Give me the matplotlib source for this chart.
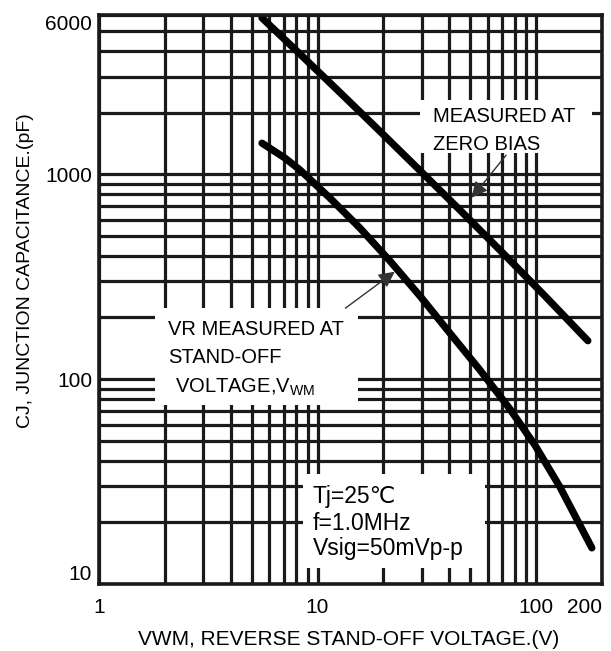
import matplotlib
matplotlib.use('Agg')
import matplotlib.pyplot as plt
from matplotlib.patches import Rectangle

# Datos (V, pF)
vr_cero = [5.57, 8.31, 12.66, 19.3, 29.4, 44.8, 68.3, 109.7, 172.6]
cj_cero = [5805, 3868, 2512, 1623, 1045, 670, 427, 255, 154]

vr_vwm = [5.57, 7.09, 8.31, 11.39, 15.63, 21.44, 29.4, 40.3, 55.3, 75.9, 98.7, 128.5, 180]
cj_vwm = [1420, 1202, 1051, 767, 547, 378, 255, 168, 111, 71.5, 47.7, 29.8, 15.0]

x_ticks = [1, 10, 100, 200]
x_ticklabels = ['1', '10', '100', '200']
y_ticks = [10, 100, 1000, 6000]
y_ticklabels = ['10', '100', '1000', '6000']

x_grid = [2, 3, 4, 5, 6, 7, 8, 9, 20, 30, 40, 50, 60, 70, 80, 90]
y_grid = [20, 30, 40, 50, 60, 70, 80, 90,
          200, 300, 400, 500, 600, 700, 800, 900,
          2000, 3000, 4000, 5000]

plt.rcParams['font.family'] = ['Liberation Sans', 'DejaVu Sans']
plt.rcParams['mathtext.default'] = 'regular'

fig = plt.figure(figsize=(6.11, 6.51), dpi=100)
ax = fig.add_axes([0.162, 0.103, 0.823, 0.874])

ax.set_xscale('log')
ax.set_yscale('log')
ax.set_xlim(1, 200)
ax.set_ylim(10, 6000)

# Rejilla gruesa
ax.set_axisbelow(True)
ax.set_xticks(x_ticks)
ax.set_xticklabels(x_ticklabels)
ax.set_yticks(y_ticks)
ax.set_yticklabels(y_ticklabels)
ax.set_xticks(x_grid, minor=True)
ax.set_yticks(y_grid, minor=True)
ax.tick_params(which='both', length=0)
ax.tick_params(axis='x', pad=10, labelsize=15)
ax.tick_params(axis='y', pad=5, labelsize=15)
ax.xaxis.set_minor_formatter(plt.NullFormatter())
ax.yaxis.set_minor_formatter(plt.NullFormatter())
ax.grid(True, which='both', color='#1a1a1a', linewidth=2.3)

for s in ax.spines.values():
    s.set_linewidth(2.6)
    s.set_color('#1a1a1a')

# Ajustes de las etiquetas extremas
ylabs = ax.get_yticklabels()
ylabs[-1].set_va('top')
ylabs[0].set_va('bottom')
xlabs = ax.get_xticklabels()
xlabs[-1].set_ha('right')

# Recuadros blancos que cortan la rejilla
for (x0, y0, w, h) in [(0.638, 0.757, 0.342, 0.094),
                       (0.111, 0.315, 0.404, 0.170),
                       (0.406, 0.028, 0.361, 0.165)]:
    ax.add_patch(Rectangle((x0, y0), w, h, transform=ax.transAxes,
                           facecolor='white', edgecolor='none', zorder=1))

# Curvas
ax.plot(vr_cero, cj_cero, color='black', linewidth=5.2,
        solid_capstyle='round', solid_joinstyle='round', zorder=2)
ax.plot(vr_vwm, cj_vwm, color='black', linewidth=5.2,
        solid_capstyle='round', solid_joinstyle='round', zorder=2)

# Textos
ax.text(0.664, 0.812, 'MEASURED AT', transform=ax.transAxes, fontsize=14.5,
        va='baseline', zorder=3)
ax.text(0.664, 0.763, 'ZERO BIAS', transform=ax.transAxes, fontsize=14.5,
        va='baseline', zorder=3)
ax.text(0.137, 0.438, 'VR MEASURED AT', transform=ax.transAxes, fontsize=14.5,
        va='baseline', zorder=3)
ax.text(0.137, 0.388, 'STAND-OFF', transform=ax.transAxes, fontsize=14.5,
        va='baseline', zorder=3)
ax.text(0.151, 0.337, r'VOLTAGE,V$_{WM}$', transform=ax.transAxes, fontsize=14.5,
        va='baseline', zorder=3)
ax.text(0.425, 0.142, 'Tj=25℃', transform=ax.transAxes, fontsize=16.5,
        va='baseline', zorder=3)
ax.text(0.425, 0.095, 'f=1.0MHz', transform=ax.transAxes, fontsize=16.5,
        va='baseline', zorder=3)
ax.text(0.425, 0.051, 'Vsig=50mVp-p', transform=ax.transAxes, fontsize=16.5,
        va='baseline', zorder=3)

# Flechas
flecha = dict(arrowstyle='-|>', color='#333333', lw=1.0, mutation_scale=24)
ax.annotate('', xy=(49.8, 750), xytext=(74.3, 1271), arrowprops=flecha, zorder=3)
ax.annotate('', xy=(23.1, 341), xytext=(13.1, 218), arrowprops=flecha, zorder=3)

# Ejes
fig.text(0.570, 0.017, 'VWM, REVERSE STAND-OFF VOLTAGE.(V)',
         ha='center', va='center', fontsize=15)
fig.text(0.041, 0.584, 'CJ, JUNCTION CAPACITANCE.(pF)', rotation=90,
         ha='center', va='center', fontsize=14)

fig.savefig('out.png', dpi=100, facecolor='white')
